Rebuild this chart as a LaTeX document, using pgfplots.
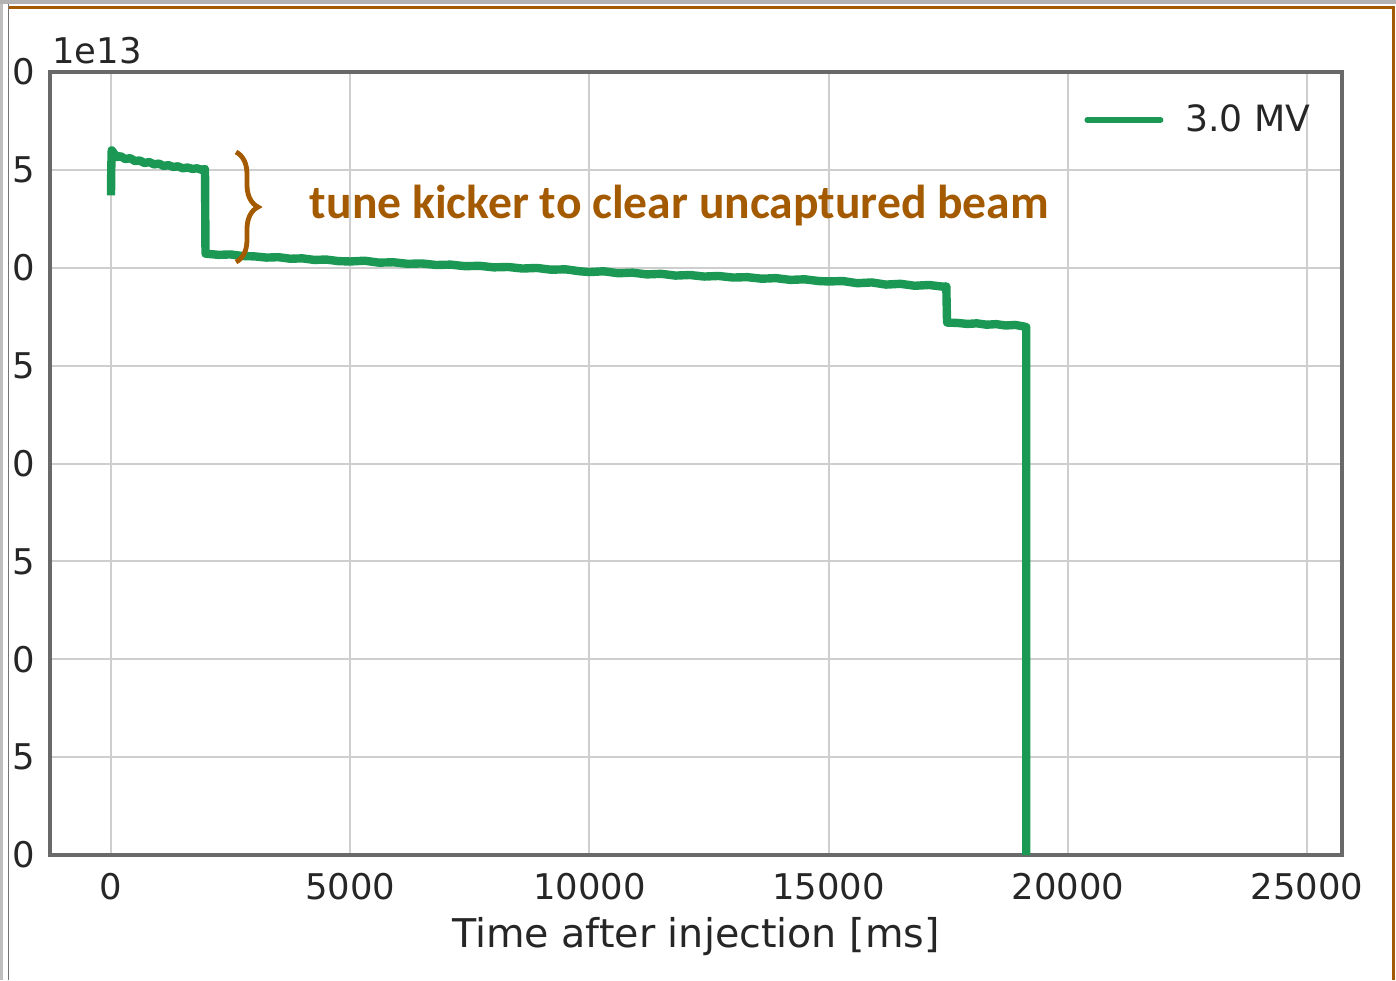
\documentclass[border=0pt]{standalone}
\usepackage{pgfplots}
\pgfplotsset{compat=1.18}
\usepackage{fontspec}
\setmainfont{DejaVu Sans}
\newfontfamily\anfont{Carlito}
\usetikzlibrary{decorations.pathreplacing}
\definecolor{lgreen}{RGB}{27,153,84}
\definecolor{anno}{RGB}{163,90,0}
\definecolor{gridc}{RGB}{206,206,206}
\definecolor{spine}{RGB}{105,105,105}
\definecolor{txt}{RGB}{38,38,38}
\begin{document}
\begin{tikzpicture}
\useasboundingbox (0,0) rectangle (698pt,-490pt);
\begin{axis}[
  at={(25pt,-36pt)}, anchor=north west,
  scale only axis, width=646pt, height=391.5pt,
  xmin=-1275, xmax=25731, ymin=0, ymax=4,
  xtick={0,5000,10000,15000,20000,25000},
  xticklabels={0,5000,10000,15000,20000,25000},
  ytick={0,0.5,1,1.5,2,2.5,3,3.5,4},
  yticklabels={0,5,0,5,0,5,0,5,0},
  scaled ticks=false,
  grid=major,
  major grid style={gridc, line width=1pt},
  axis line style={spine, line width=2pt},
  major tick length=0pt,
  tick label style={font=\fontsize{17.7}{20}\selectfont, text=txt},
  xticklabel style={yshift=-5.5pt},
  yticklabel style={xshift=-4pt},
  xlabel={Time after injection [ms]},
  xlabel style={font=\fontsize{19.8}{22}\selectfont, text=txt, at={(axis description cs:0.5,0)}, anchor=base, yshift=-46pt},
  legend style={draw=none, fill=none, at={(axis description cs:0.979,0.9387)}, anchor=east, inner sep=0pt, font=\fontsize{18.1}{20}\selectfont, text=txt, /tikz/every odd column/.append style={column sep=9pt}},
  legend image code/.code={\draw[#1, line width=3pt, line cap=round] (0pt,0pt) -- (36.5pt,0pt);},
  clip=false,
]
\addplot[lgreen, line width=4.2pt, line join=round] coordinates {
(0,3.37) (5,3.50) (15,3.60) (60,3.585) (120,3.565) (200,3.57) (300,3.555) (400,3.56)
(500,3.545) (600,3.548) (700,3.535) (800,3.54) (900,3.528) (1000,3.532) (1100,3.52)
(1200,3.524) (1300,3.515) (1400,3.518) (1500,3.508) (1600,3.512) (1700,3.505) (1800,3.508)
(1900,3.50) (1965,3.505) (1975,3.072)
(2250,3.066) (2500,3.068) (2750,3.060) (3000,3.058) (3250,3.052) (3500,3.054) (3750,3.046)
(4000,3.048) (4250,3.040) (4500,3.042) (4750,3.034) (5000,3.032) (5300,3.036) (5600,3.026)
(5900,3.028) (6200,3.020) (6500,3.022) (6800,3.014) (7100,3.016) (7400,3.008) (7700,3.010)
(8000,3.002) (8300,3.004) (8600,2.996) (8900,2.999) (9200,2.990) (9500,2.992) (9800,2.982)
(10000,2.978) (10300,2.982) (10600,2.972) (10900,2.975) (11200,2.966) (11500,2.969)
(11800,2.960) (12100,2.963) (12400,2.955) (12700,2.958) (13000,2.950) (13300,2.952)
(13600,2.944) (13900,2.947) (14200,2.938) (14500,2.941) (14800,2.932) (15000,2.930)
(15300,2.932) (15600,2.921) (15900,2.925) (16200,2.914) (16500,2.918) (16800,2.908)
(17100,2.912) (17400,2.903) (17460,2.905) (17475,2.72)
(17700,2.718) (17900,2.713) (18100,2.716) (18300,2.709) (18500,2.712) (18700,2.705)
(18900,2.708) (19080,2.700) (19130,2.697) (19130,0)
};
\addlegendentry{3.0 MV}
\end{axis}
% annotation
\node[anchor=base, text=anno, font=\anfont\bfseries\fontsize{23.8}{28}\selectfont, inner sep=0pt] at (339.75pt,-109pt) {tune kicker to clear uncaptured beam};
\draw[anno, line width=2.4pt, decorate, decoration={brace, amplitude=11pt}] (118pt,-76pt) -- (118pt,-131pt);
% 1e13
\node[anchor=base west, text=txt, font=\fontsize{17.7}{20}\selectfont, inner sep=0pt] at (26pt,-31.5pt) {1e13};
% screenshot frame
\fill[black!30] (0,0) rectangle (698pt,-2pt);
\draw[anno, line width=1.5pt] (4.5pt,-3.75pt) -- (696.5pt,-3.75pt) -- (696.5pt,-490pt);
\fill[black!25] (0,-2pt) rectangle (1.5pt,-490pt);
\draw[black!55, line width=0.6pt] (4.3pt,-2pt) -- (4.3pt,-490pt);
\end{tikzpicture}
\end{document}
